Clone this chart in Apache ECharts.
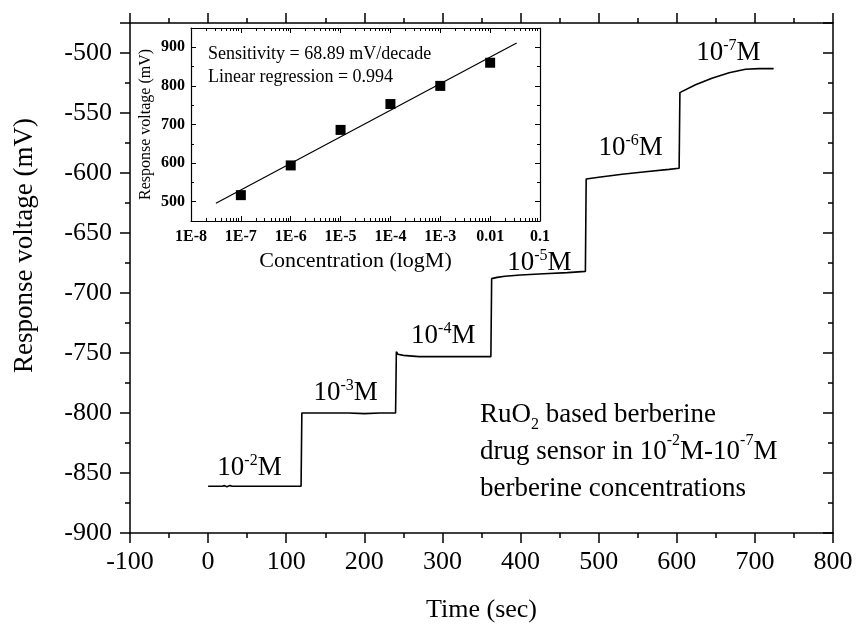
<!DOCTYPE html>
<html>
<head>
<meta charset="utf-8">
<title>RuO2 berberine sensor response</title>
<script src="https://cdn.jsdelivr.net/npm/echarts@6/dist/echarts.min.js"></script>
<style>
  html, body { margin: 0; padding: 0; background: #fff; }
  #chart { width: 856px; height: 628px; }
</style>
</head>
<body>
<div id="chart"></div>
<script>
// main trace: time (s) vs response voltage (mV)
const timeSec = [0, 10, 18, 21, 24, 28, 31, 40, 60, 80, 100, 119, 120, 140, 160, 180, 200, 220, 240,
  241, 243, 250, 270, 300, 330, 362, 363, 370, 380, 400, 430, 460, 483,
  484, 500, 530, 560, 590, 603, 604, 607, 624, 645, 667, 688, 705, 724];
const responseMv = [-861, -861, -861, -860.5, -861.5, -860.5, -861, -861, -861, -861, -861, -861, -800, -800, -800, -800, -800.5, -800, -800,
  -749, -751, -752, -753, -753, -753, -753, -688, -687, -686, -685, -684, -683, -682,
  -605, -603.5, -601, -599, -597, -596, -533, -532, -526.5, -521, -516.5, -513.5, -513, -513];

// concentration labels on each step
const stepLabelTimes = [53, 176, 301, 424, 541, 666];
const stepLabelVolts = [-846, -783, -736, -675, -579, -500];
const stepLabelExps = ['-2', '-3', '-4', '-5', '-6', '-7'];

// inset: calibration
const concentrations = [1e-7, 1e-6, 1e-5, 1e-4, 1e-3, 1e-2];
const insetResponse = [517, 594, 686, 753, 800, 860];
const fitConc = [3.16e-8, 0.034];
const fitResponse = [496, 911];
const insetTickLabels = ['1E-8', '1E-7', '1E-6', '1E-5', '1E-4', '1E-3', '0.01', '0.1'];
const insetYTicks = [500, 600, 700, 800, 900];
const insetYMinor = [450, 550, 650, 750, 850, 950];

const FONT = '"Liberation Serif", "Times New Roman", serif';
const black = { color: '#000', width: 1.5 };

// log minor ticks at 2..9 of every decade (in log10 units)
const logMinor = [];
for (let d = -8; d < -1; d++) {
  for (let k = 2; k <= 9; k++) logMinor.push(d + Math.log10(k));
}

const chart = echarts.init(document.getElementById('chart'));

const mainX = {
  type: 'value', gridIndex: 0, min: -100, max: 800, interval: 100,
  axisLine: { onZero: false, lineStyle: black },
  axisTick: { length: 10, lineStyle: black },
  minorTick: { show: true, splitNumber: 2, length: 5, lineStyle: black },
  splitLine: { show: false }
};
const mainY = {
  type: 'value', gridIndex: 0, min: -900, max: -475, interval: 50,
  axisLine: { onZero: false, lineStyle: black },
  axisTick: { length: 10, lineStyle: black },
  minorTick: { show: true, splitNumber: 2, length: 5, lineStyle: black },
  splitLine: { show: false }
};

const insetX = {
  type: 'value', gridIndex: 1, min: -8, max: -1, interval: 1,
  axisLine: { onZero: false, lineStyle: { color: '#000', width: 1.2 } },
  axisTick: { inside: true, length: 5, lineStyle: { color: '#000', width: 1 } },
  splitLine: { show: false }
};
const insetXMinor = {
  type: 'value', gridIndex: 1, min: -8, max: -1,
  axisLine: { show: false },
  axisLabel: { show: false },
  axisTick: { inside: true, length: 3, customValues: logMinor, lineStyle: { color: '#000', width: 1 } },
  splitLine: { show: false }
};
const insetY = {
  type: 'value', gridIndex: 1, min: 450, max: 950,
  axisLine: { onZero: false, lineStyle: { color: '#000', width: 1.2 } },
  axisTick: { inside: true, length: 5, customValues: insetYTicks, lineStyle: { color: '#000', width: 1 } },
  splitLine: { show: false }
};
const insetYMinorAxis = {
  type: 'value', gridIndex: 1, min: 450, max: 950,
  axisLine: { show: false },
  axisLabel: { show: false },
  axisTick: { inside: true, length: 3, customValues: insetYMinor, lineStyle: { color: '#000', width: 1 } },
  splitLine: { show: false }
};

const supRich = {
  b: { fontSize: 27, fontFamily: FONT, color: '#000', lineHeight: 30 },
  s: { fontSize: 16, fontFamily: FONT, color: '#000', lineHeight: 16, verticalAlign: 'top' }
};

chart.setOption({
  backgroundColor: '#fff',
  animation: false,
  grid: [
    { left: 130, right: 23, top: 23, bottom: 89 },
    { left: 191, top: 28, width: 349, height: 193, show: true, backgroundColor: '#fff', borderWidth: 0 }
  ],
  xAxis: [
    Object.assign({}, mainX, {
      position: 'bottom',
      axisLabel: { fontSize: 26, fontFamily: FONT, color: '#000', margin: 16 },
      name: 'Time (sec)', nameLocation: 'middle', nameGap: 64,
      nameTextStyle: { fontSize: 26, fontFamily: FONT, color: '#000' }
    }),
    Object.assign({}, mainX, { position: 'top', axisLabel: { show: false } }),
    Object.assign({}, insetX, {
      position: 'bottom',
      axisLabel: {
        fontSize: 16, fontWeight: 'bold', fontFamily: FONT, color: '#000', margin: 8,
        formatter: v => insetTickLabels[Math.round(v) + 8]
      },
      name: 'Concentration (logM)', nameLocation: 'middle', nameGap: 29,
      nameTextStyle: { fontSize: 22, fontFamily: FONT, color: '#000', padding: [0, 20, 0, 0] }
    }),
    Object.assign({}, insetXMinor, { position: 'bottom' }),
    Object.assign({}, insetX, { position: 'top', axisLabel: { show: false } }),
    Object.assign({}, insetXMinor, { position: 'top' })
  ],
  yAxis: [
    Object.assign({}, mainY, {
      position: 'left',
      axisLabel: { fontSize: 26, fontFamily: FONT, color: '#000', margin: 18, showMaxLabel: false },
      name: 'Response voltage (mV)', nameLocation: 'middle', nameGap: 92,
      nameTextStyle: { fontSize: 27, fontFamily: FONT, color: '#000', padding: [0, 0, 0, 65] }
    }),
    Object.assign({}, mainY, {
      position: 'right',
      axisLabel: { show: false },
      axisTick: { inside: true, length: 10, lineStyle: black }
    }),
    Object.assign({}, insetY, {
      position: 'left',
      axisLabel: { customValues: insetYTicks, fontSize: 16, fontWeight: 'bold', fontFamily: FONT, color: '#000', margin: 6 },
      name: 'Response voltage (mV)', nameLocation: 'middle', nameGap: 37,
      nameTextStyle: { fontSize: 16, fontFamily: FONT, color: '#000' }
    }),
    Object.assign({}, insetYMinorAxis, { position: 'left' }),
    Object.assign({}, insetY, { position: 'right', axisLabel: { show: false } }),
    Object.assign({}, insetYMinorAxis, { position: 'right' })
  ],
  series: [
    {
      type: 'line', xAxisIndex: 0, yAxisIndex: 0,
      data: timeSec.map((t, i) => [t, responseMv[i]]),
      symbol: 'none', lineStyle: { color: '#000', width: 1.6 }, z: 3
    },
    {
      type: 'scatter', xAxisIndex: 0, yAxisIndex: 0, symbolSize: 0,
      data: stepLabelTimes.map((t, i) => [t, stepLabelVolts[i], stepLabelExps[i]]),
      itemStyle: { color: '#000', opacity: 1 },
      label: {
        show: true, position: 'inside', color: '#000', textBorderWidth: 0,
        formatter: p => '{b|10}{s|' + p.value[2] + '}{b|M}',
        rich: supRich
      }
    },
    {
      type: 'line', xAxisIndex: 2, yAxisIndex: 2,
      data: fitConc.map((c, i) => [Math.log10(c), fitResponse[i]]),
      symbol: 'none', lineStyle: { color: '#000', width: 1.2 }, z: 4
    },
    {
      type: 'scatter', xAxisIndex: 2, yAxisIndex: 2,
      data: concentrations.map((c, i) => [Math.log10(c), insetResponse[i]]),
      symbol: 'rect', symbolSize: 10, itemStyle: { color: '#000', opacity: 1 }, z: 5
    }
  ],
  graphic: [
    {
      type: 'text', left: 208, top: 43, z: 10,
      style: {
        text: 'Sensitivity = 68.89 mV/decade\nLinear regression = 0.994',
        font: '18px ' + FONT, fill: '#000', lineHeight: 23
      }
    },
    {
      type: 'text', left: 480, top: 401, z: 10,
      style: {
        text: '{n|RuO}{sub|2}{n| based berberine}\n{n|drug sensor in 10}{sup|-2}{n|M-10}{sup|-7}{n|M}\n{n|berberine concentrations}',
        rich: {
          n: { fontSize: 27, fontFamily: FONT, fill: '#000', lineHeight: 37 },
          sub: { fontSize: 16, fontFamily: FONT, fill: '#000', lineHeight: 20, verticalAlign: 'bottom' },
          sup: { fontSize: 16, fontFamily: FONT, fill: '#000', lineHeight: 24, verticalAlign: 'top' }
        }
      }
    }
  ]
});
</script>
</body>
</html>
